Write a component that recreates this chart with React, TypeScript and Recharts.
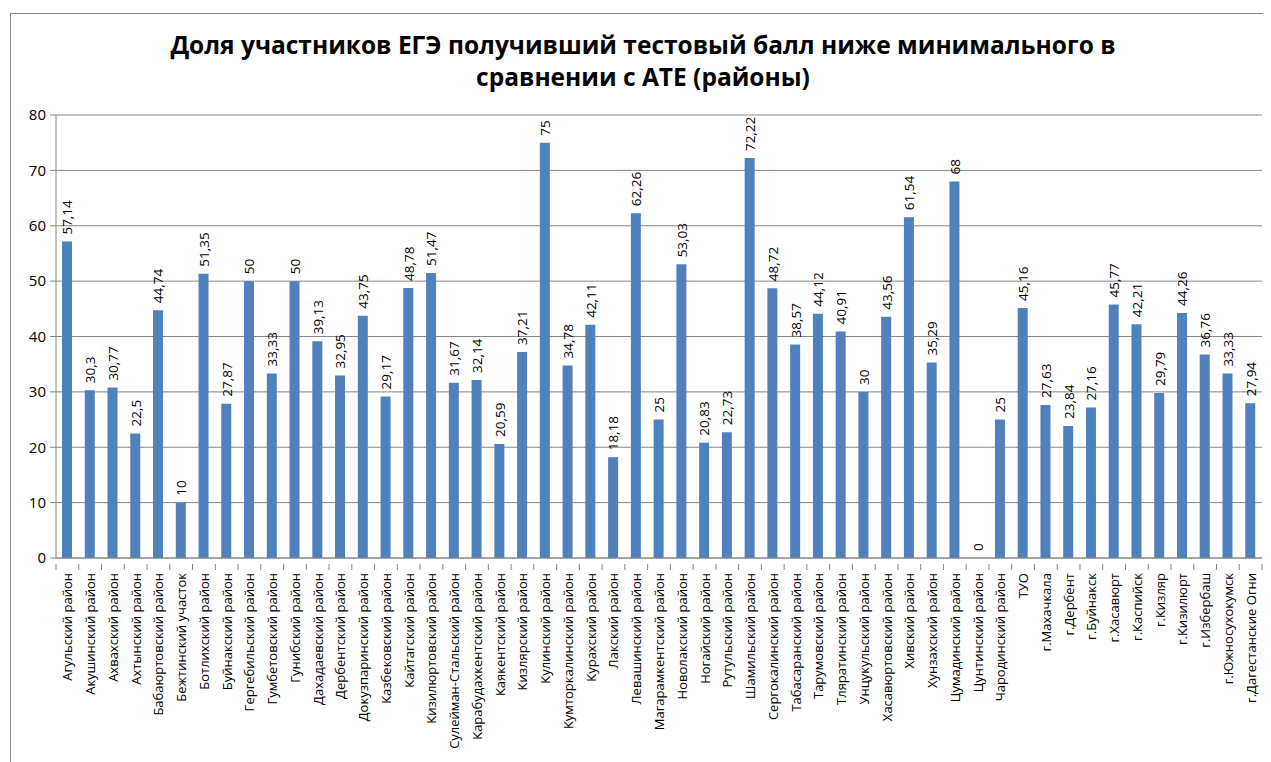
import React from 'react';
import { ComposedChart, Bar, Line, XAxis, YAxis, CartesianGrid, LabelList } from 'recharts';

const districts = [
  'Агульский район', 'Акушинский  район', 'Ахвахский район', 'Ахтынский  район', 'Бабаюртовский район',
  'Бежтинский  участок', 'Ботлихский район', 'Буйнакский район', 'Гергебильский район', 'Гумбетовский район',
  'Гунибский район', 'Дахадаевский район', 'Дербентский  район', 'Докузпаринский район', 'Казбековский район',
  'Кайтагский район', 'Кизилюртовский  район', 'Сулейман-Стальский район', 'Карабудахкентский район', 'Каякентский район',
  'Кизлярский район', 'Кулинский  район', 'Кумторкалинский район', 'Курахский район', 'Лакский район',
  'Левашинский  район', 'Магарамкентский район', 'Новолакский район', 'Ногайский район', 'Рутульский район',
  'Шамильский район', 'Сергокалинский район', 'Табасаранский район', 'Тарумовский  район', 'Тляратинский  район',
  'Унцукульский  район', 'Хасавюртовский район', 'Хивский  район', 'Хунзахский район', 'Цумадинский  район',
  'Цунтинский  район', 'Чародинский  район', 'ТУО', 'г.Махачкала', 'г.Дербент',
  'г.Буйнакск', 'г.Хасавюрт', 'г.Каспийск', 'г.Кизляр', 'г.Кизилюрт',
  'г.Избербаш', 'г.Южносухокумск', 'г.Дагестанские Огни',
];

const shares = [
  57.14, 30.3, 30.77, 22.5, 44.74,
  10, 51.35, 27.87, 50, 33.33,
  50, 39.13, 32.95, 43.75, 29.17,
  48.78, 51.47, 31.67, 32.14, 20.59,
  37.21, 75, 34.78, 42.11, 18.18,
  62.26, 25, 53.03, 20.83, 22.73,
  72.22, 48.72, 38.57, 44.12, 40.91,
  30, 43.56, 61.54, 35.29, 68,
  0, 25, 45.16, 27.63, 23.84,
  27.16, 45.77, 42.21, 29.79, 44.26,
  36.76, 33.33, 27.94,
];

const yTicks = [0, 10, 20, 30, 40, 50, 60, 70, 80];

const data = districts.map((name, i) => ({ name, value: shares[i] }));

const FONT = "'Open Sans', 'Noto Sans', sans-serif";
const AXIS_GRAY = '#868686';
const BAR_BLUE = '#4F81BD';

const fmt = (v: number) => String(v).replace('.', ',');

const CategoryTick = (props: any) => {
  const { x, y, payload, index } = props;
  const half = payload && payload.offset ? payload.offset : 11.4;
  const last = index === districts.length - 1;
  return (
    <g>
      <line x1={x - half} y1={y - 8} x2={x - half} y2={y - 2} stroke={AXIS_GRAY} />
      {last && <line x1={x + half} y1={y - 8} x2={x + half} y2={y - 2} stroke={AXIS_GRAY} />}
      <text
        x={x}
        y={y + 1}
        transform={`rotate(-90, ${x}, ${y + 1})`}
        textAnchor="end"
        dominantBaseline="central"
        fontFamily={FONT}
        fontSize={13}
        fill="#000"
      >
        {payload.value}
      </text>
    </g>
  );
};

// labels sit on an invisible line so the zero bar gets one too
const ValueLabel = (props: any) => {
  const { x, y, value } = props;
  const ty = y - 7;
  return (
    <text
      x={x}
      y={ty}
      transform={`rotate(-90, ${x}, ${ty})`}
      textAnchor="start"
      dominantBaseline="central"
      fontFamily={FONT}
      fontSize={13.5}
      fill="#000"
    >
      {fmt(value)}
    </text>
  );
};

export default function App() {
  return (
    <div style={{ position: 'relative', width: 1263, height: 754, overflow: 'hidden', background: '#fff' }}>
      <div
        style={{
          position: 'absolute', left: 2, top: 5, width: 1300, height: 800,
          border: '1px solid #878787', boxSizing: 'border-box',
        }}
      />
      <div
        style={{
          position: 'absolute', left: 0, top: 21, width: 1270, textAlign: 'center',
          fontFamily: FONT, fontWeight: 700, fontSize: 24.5, lineHeight: '32px', color: '#000',
        }}
      >
        Доля участников ЕГЭ получивший тестовый балл ниже минимального в
        <br />
        сравнении с АТЕ (районы)
      </div>
      <div style={{ position: 'absolute', left: 0, top: 0 }}>
        <ComposedChart
          width={1263}
          height={754}
          data={data}
          margin={{ top: 107, right: 9, bottom: 0, left: 0 }}
          barCategoryGap={0}
        >
          <CartesianGrid vertical={false} stroke={AXIS_GRAY} strokeWidth={1} />
          <XAxis
            dataKey="name"
            interval={0}
            height={204}
            axisLine={{ stroke: AXIS_GRAY }}
            tickLine={false}
            tick={<CategoryTick />}
            tickMargin={8}
          />
          <YAxis
            domain={[0, 80]}
            ticks={yTicks}
            width={48}
            axisLine={{ stroke: AXIS_GRAY }}
            tickLine={{ stroke: AXIS_GRAY }}
            tickSize={6}
            tick={{ fill: '#000', fontSize: 15, fontFamily: FONT }}
            tickMargin={4}
          />
          <Bar dataKey="value" fill={BAR_BLUE} barSize={10} isAnimationActive={false} />
          <Line
            dataKey="value"
            stroke="none"
            dot={false}
            activeDot={false}
            isAnimationActive={false}
          >
            <LabelList dataKey="value" content={<ValueLabel />} />
          </Line>
        </ComposedChart>
      </div>
    </div>
  );
}
